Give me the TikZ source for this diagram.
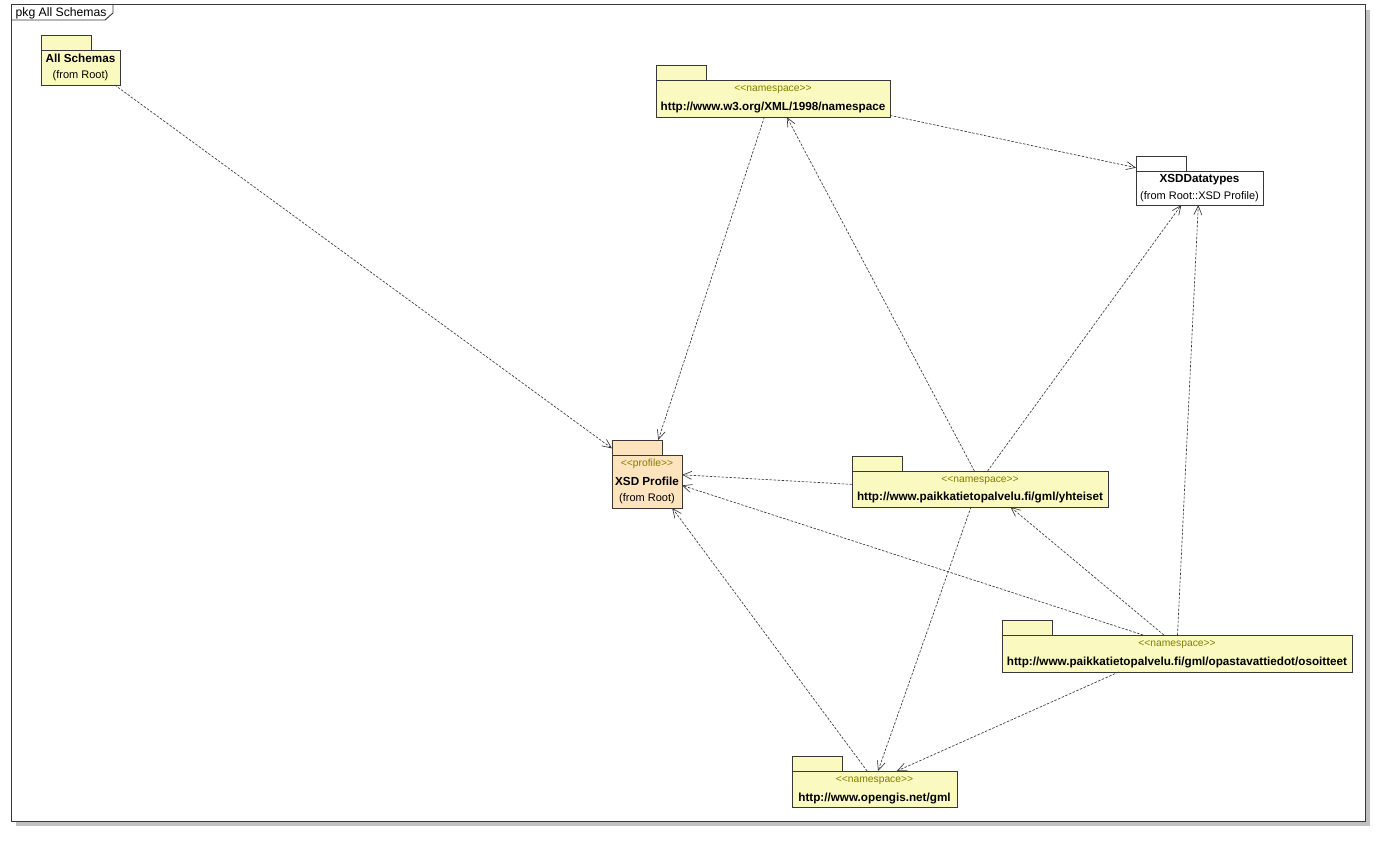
\documentclass[tikz,border=0pt]{standalone}
\usepackage{fontspec}
\setmainfont{Liberation Sans}
\usetikzlibrary{arrows.meta,calc}
\definecolor{pkgyellow}{RGB}{250,250,192}
\definecolor{pkgpeach}{RGB}{254,228,190}
\definecolor{stcolor}{RGB}{130,125,0}
\definecolor{linec}{RGB}{56,56,56}
\definecolor{shadowc}{RGB}{192,192,192}
\newcommand\ster{<\kern0pt<}
\newcommand\stcl{>\kern0pt>}
\newcommand\pkgdraw[6]{%
  \node[pkgtab, fill=#6] (#1t) at (#2,#3-15) {};
  \node[pkgbody, fill=#6, minimum width=#4pt, minimum height=#5pt] (#1) at (#2,#3) {};
}
\begin{document}
\begin{tikzpicture}[x=1pt,y=-1pt,
  pkgbody/.style={draw=linec, line width=0.8pt, anchor=north west, inner sep=0pt, outer sep=0pt},
  pkgtab/.style={draw=linec, line width=0.8pt, anchor=north west, inner sep=0pt, outer sep=0pt, minimum width=50pt, minimum height=15pt},
  nametext/.style={anchor=base, inner sep=0pt, font=\fontsize{11.7}{13}\selectfont\bfseries},
  fromtext/.style={anchor=base, inner sep=0pt, font=\fontsize{11}{13}\selectfont},
  stertext/.style={anchor=base, inner sep=0pt, text=stcolor, font=\fontsize{10.3}{12}\selectfont},
  dep/.style={draw=linec, line width=0.65pt, dash pattern=on 2.5pt off 1.5pt,
    -{Straight Barb[length=9pt,width=8pt,line width=0.65pt]}}
]
\useasboundingbox (0,0) rectangle (1392,842);
\fill[white] (0,0) rectangle (1392,842);
% frame
\fill[shadowc] (16,10) rectangle (1370,826);
\node[draw=linec, fill=white, line width=1pt, anchor=north west, inner sep=0pt, outer sep=0pt,
  minimum width=1354pt, minimum height=816pt] (frame) at (11,5) {};
\draw[linec, line width=0.9pt] (11,20) -- (105,20) -- (113,13) -- (113,5);
\node[anchor=base west, inner sep=0pt, font=\fontsize{12.2}{14}\selectfont] (framelabel) at (15.5,16.7) {pkg All Schemas};

\pkgdraw{as}{41}{50}{79}{35}{pkgyellow}
\pkgdraw{xml}{656}{80}{234}{37}{pkgyellow}
\pkgdraw{dt}{1136}{171}{127}{34}{white}
\pkgdraw{xp}{612}{455}{70}{53}{pkgpeach}
\pkgdraw{yh}{852}{471}{256}{36}{pkgyellow}
\pkgdraw{os}{1002}{635}{350}{37}{pkgyellow}
\pkgdraw{og}{792}{771}{165}{36}{pkgyellow}

% texts
\node[nametext] (asn) at ($(as.north)+(0,13)$) {All Schemas};
\node[fromtext] (asf) at ($(as.north)+(0,28.7)$) {(from Root)};

\node[stertext] (xmls) at ($(xml.north)+(0,11.5)$) {\ster namespace\stcl};
\node[nametext] (xmln) at ($(xml.north)+(0,30.3)$) {http://www.w3.org/XML/1998/namespace};

\node[nametext] (dtn) at ($(dt.north)+(0,11.7)$) {XSDDatatypes};
\node[fromtext] (dtf) at ($(dt.north)+(0,28.3)$) {(from Root::XSD Profile)};

\node[stertext] (xps) at ($(xp.north)+(0,11.7)$) {\ster profile\stcl};
\node[nametext] (xpn) at ($(xp.north)+(0,30.5)$) {XSD Profile};
\node[fromtext] (xpf) at ($(xp.north)+(0,46.5)$) {(from Root)};

\node[stertext] (yhs) at ($(yh.north)+(0,11)$) {\ster namespace\stcl};
\node[nametext] (yhn) at ($(yh.north)+(0,29.3)$) {http://www.paikkatietopalvelu.fi/gml/yhteiset};

\node[stertext] (oss) at ($(os.north)+(0,11.2)$) {\ster namespace\stcl};
\node[nametext] (osn) at ($(os.north)+(0,30)$) {http://www.paikkatietopalvelu.fi/gml/opastavattiedot/osoitteet};

\node[stertext] (ogs) at ($(og.north)+(0,11.2)$) {\ster namespace\stcl};
\node[nametext] (ogn) at ($(og.north)+(0,30)$) {http://www.opengis.net/gml};

% dependencies
\draw[dep] ($(as.south west)+(73.7,0)$) -- ($(xp.north west)+(0,-6.6)$);
\draw[dep] ($(xml.south west)+(108.4,0)$) -- ($(xpt.north west)+(46.2,0)$);
\draw[dep] ($(xml.south east)+(0,-1.6)$) -- ($(dtt.north west)+(0,11.7)$);
\draw[dep] ($(yh.north west)+(122.4,0)$) -- ($(xml.south west)+(130.8,0)$);
\draw[dep] ($(yh.north west)+(135.6,0)$) -- ($(dt.south west)+(45.3,0)$);
\draw[dep] ($(yh.north west)+(0,13.4)$) -- ($(xp.north east)+(0,19.8)$);
\draw[dep] ($(yh.south west)+(119,0)$) -- ($(og.north west)+(86,0)$);
\draw[dep] ($(os.north west)+(161.8,0)$) -- ($(yh.south west)+(158.5,0)$);
\draw[dep] ($(os.north west)+(141.1,0)$) -- ($(xp.north east)+(0,30.4)$);
\draw[dep] ($(os.north west)+(175.5,0)$) -- ($(dt.south west)+(62.3,0)$);
\draw[dep] ($(os.south west)+(116.7,0)$) -- ($(og.north west)+(104.9,0)$);
\draw[dep] ($(og.north west)+(75.1,0)$) -- ($(xp.south west)+(60.2,0)$);
\end{tikzpicture}
\end{document}
